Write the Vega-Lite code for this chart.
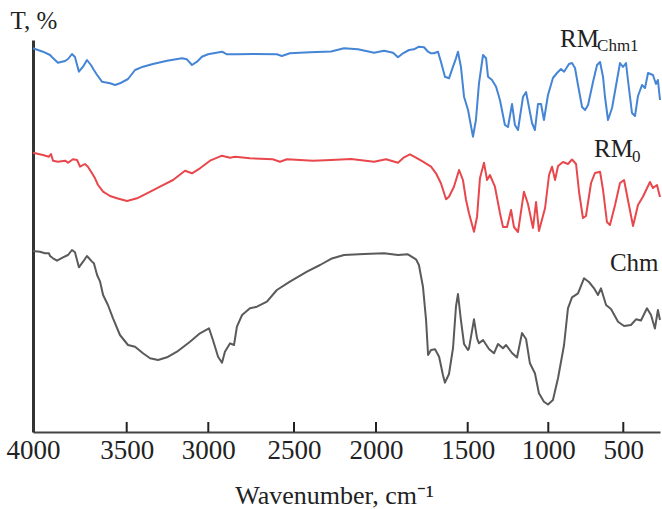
{
  "$schema": "https://vega.github.io/schema/vega-lite/v6.json",
  "width": 627,
  "height": 392,
  "autosize": "none",
  "padding": {"left": 33, "top": 40, "right": 2, "bottom": 77},
  "config": {"view": {"stroke": null}, "font": "Liberation Serif"},
  "datasets": {
    "spectra": [
      {"series":"RMChm1","wn":4000,"T":383.7},{"series":"RMChm1","wn":3947,"T":380.3},{"series":"RMChm1","wn":3909,"T":377},{"series":"RMChm1","wn":3899,"T":375},{"series":"RMChm1","wn":3867,"T":369.3},{"series":"RMChm1","wn":3829,"T":371},{"series":"RMChm1","wn":3813,"T":373},{"series":"RMChm1","wn":3792,"T":378},{"series":"RMChm1","wn":3776,"T":375},{"series":"RMChm1","wn":3755,"T":360.3},{"series":"RMChm1","wn":3733,"T":365.3},{"series":"RMChm1","wn":3712,"T":372},{"series":"RMChm1","wn":3691,"T":367},{"series":"RMChm1","wn":3675,"T":362},{"series":"RMChm1","wn":3658,"T":357},{"series":"RMChm1","wn":3632,"T":350.3},{"series":"RMChm1","wn":3589,"T":348.7},{"series":"RMChm1","wn":3562,"T":347},{"series":"RMChm1","wn":3536,"T":348.7},{"series":"RMChm1","wn":3492,"T":353},{"series":"RMChm1","wn":3449,"T":362},{"series":"RMChm1","wn":3400,"T":365.3},{"series":"RMChm1","wn":3339,"T":368},{"series":"RMChm1","wn":3253,"T":371.3},{"series":"RMChm1","wn":3161,"T":373.7},{"series":"RMChm1","wn":3131,"T":372.7},{"series":"RMChm1","wn":3100,"T":367},{"series":"RMChm1","wn":3069,"T":370.3},{"series":"RMChm1","wn":3039,"T":375.3},{"series":"RMChm1","wn":3002,"T":377.7},{"series":"RMChm1","wn":2920,"T":380.3},{"series":"RMChm1","wn":2891,"T":377.7},{"series":"RMChm1","wn":2833,"T":377.7},{"series":"RMChm1","wn":2739,"T":378},{"series":"RMChm1","wn":2600,"T":377.7},{"series":"RMChm1","wn":2571,"T":376},{"series":"RMChm1","wn":2524,"T":378.7},{"series":"RMChm1","wn":2402,"T":379.7},{"series":"RMChm1","wn":2274,"T":380.5},{"series":"RMChm1","wn":2195,"T":383.7},{"series":"RMChm1","wn":2110,"T":382.7},{"series":"RMChm1","wn":2012,"T":379.3},{"series":"RMChm1","wn":1956,"T":381.3},{"series":"RMChm1","wn":1907,"T":379.3},{"series":"RMChm1","wn":1880,"T":374.7},{"series":"RMChm1","wn":1853,"T":378.7},{"series":"RMChm1","wn":1820,"T":382},{"series":"RMChm1","wn":1793,"T":382.7},{"series":"RMChm1","wn":1766,"T":385.3},{"series":"RMChm1","wn":1738,"T":384.7},{"series":"RMChm1","wn":1716,"T":380.3},{"series":"RMChm1","wn":1700,"T":378.7},{"series":"RMChm1","wn":1684,"T":378.7},{"series":"RMChm1","wn":1662,"T":380.3},{"series":"RMChm1","wn":1646,"T":370.3},{"series":"RMChm1","wn":1624,"T":355.3},{"series":"RMChm1","wn":1602,"T":353.7},{"series":"RMChm1","wn":1580,"T":365.3},{"series":"RMChm1","wn":1564,"T":373.7},{"series":"RMChm1","wn":1553,"T":380.3},{"series":"RMChm1","wn":1537,"T":365.3},{"series":"RMChm1","wn":1520,"T":335.3},{"series":"RMChm1","wn":1498,"T":322},{"series":"RMChm1","wn":1467,"T":295.3},{"series":"RMChm1","wn":1449,"T":312},{"series":"RMChm1","wn":1430,"T":348.7},{"series":"RMChm1","wn":1405,"T":377},{"series":"RMChm1","wn":1386,"T":373.7},{"series":"RMChm1","wn":1374,"T":355.3},{"series":"RMChm1","wn":1349,"T":352},{"series":"RMChm1","wn":1324,"T":345.3},{"series":"RMChm1","wn":1300,"T":332},{"series":"RMChm1","wn":1269,"T":307},{"series":"RMChm1","wn":1250,"T":305},{"series":"RMChm1","wn":1225,"T":328},{"series":"RMChm1","wn":1207,"T":307},{"series":"RMChm1","wn":1188,"T":302},{"series":"RMChm1","wn":1157,"T":335},{"series":"RMChm1","wn":1138,"T":340},{"series":"RMChm1","wn":1126,"T":330},{"series":"RMChm1","wn":1101,"T":309},{"series":"RMChm1","wn":1083,"T":302},{"series":"RMChm1","wn":1064,"T":328},{"series":"RMChm1","wn":1045,"T":328},{"series":"RMChm1","wn":1027,"T":312},{"series":"RMChm1","wn":1002,"T":337},{"series":"RMChm1","wn":969,"T":354},{"series":"RMChm1","wn":942,"T":359},{"series":"RMChm1","wn":915,"T":363},{"series":"RMChm1","wn":895,"T":360.3},{"series":"RMChm1","wn":862,"T":368},{"series":"RMChm1","wn":842,"T":369},{"series":"RMChm1","wn":822,"T":364},{"series":"RMChm1","wn":802,"T":347},{"series":"RMChm1","wn":775,"T":325},{"series":"RMChm1","wn":755,"T":322},{"series":"RMChm1","wn":735,"T":327},{"series":"RMChm1","wn":702,"T":350},{"series":"RMChm1","wn":675,"T":367},{"series":"RMChm1","wn":655,"T":370},{"series":"RMChm1","wn":635,"T":355},{"series":"RMChm1","wn":622,"T":335},{"series":"RMChm1","wn":602,"T":312},{"series":"RMChm1","wn":575,"T":324},{"series":"RMChm1","wn":542,"T":352},{"series":"RMChm1","wn":522,"T":369},{"series":"RMChm1","wn":502,"T":365},{"series":"RMChm1","wn":482,"T":369},{"series":"RMChm1","wn":469,"T":352},{"series":"RMChm1","wn":442,"T":319},{"series":"RMChm1","wn":422,"T":316},{"series":"RMChm1","wn":402,"T":336},{"series":"RMChm1","wn":375,"T":347},{"series":"RMChm1","wn":355,"T":344},{"series":"RMChm1","wn":335,"T":359},{"series":"RMChm1","wn":302,"T":357},{"series":"RMChm1","wn":282,"T":348},{"series":"RMChm1","wn":269,"T":352},{"series":"RMChm1","wn":255,"T":332},

      {"series":"RM0","wn":4000,"T":279.3},{"series":"RM0","wn":3947,"T":277},{"series":"RM0","wn":3915,"T":275.3},{"series":"RM0","wn":3904,"T":278},{"series":"RM0","wn":3893,"T":271.3},{"series":"RM0","wn":3867,"T":270.3},{"series":"RM0","wn":3829,"T":271.3},{"series":"RM0","wn":3813,"T":269.3},{"series":"RM0","wn":3787,"T":272.7},{"series":"RM0","wn":3765,"T":272},{"series":"RM0","wn":3749,"T":265.3},{"series":"RM0","wn":3723,"T":268},{"series":"RM0","wn":3707,"T":265.3},{"series":"RM0","wn":3685,"T":258.7},{"series":"RM0","wn":3669,"T":253.7},{"series":"RM0","wn":3653,"T":247},{"series":"RM0","wn":3626,"T":240.3},{"series":"RM0","wn":3589,"T":236},{"series":"RM0","wn":3552,"T":233.7},{"series":"RM0","wn":3498,"T":231},{"series":"RM0","wn":3437,"T":233.7},{"series":"RM0","wn":3376,"T":238.7},{"series":"RM0","wn":3296,"T":245.3},{"series":"RM0","wn":3216,"T":252},{"series":"RM0","wn":3143,"T":261.3},{"series":"RM0","wn":3100,"T":258.7},{"series":"RM0","wn":3051,"T":263.7},{"series":"RM0","wn":2990,"T":271.3},{"series":"RM0","wn":2920,"T":276.3},{"series":"RM0","wn":2873,"T":274.3},{"series":"RM0","wn":2844,"T":275.3},{"series":"RM0","wn":2757,"T":273.7},{"series":"RM0","wn":2624,"T":272.7},{"series":"RM0","wn":2582,"T":270.3},{"series":"RM0","wn":2541,"T":272.7},{"series":"RM0","wn":2384,"T":271.3},{"series":"RM0","wn":2274,"T":272},{"series":"RM0","wn":2152,"T":273},{"series":"RM0","wn":2012,"T":270.3},{"series":"RM0","wn":1945,"T":272.7},{"series":"RM0","wn":1880,"T":269.3},{"series":"RM0","wn":1847,"T":274.7},{"series":"RM0","wn":1815,"T":277.7},{"series":"RM0","wn":1782,"T":274.3},{"series":"RM0","wn":1744,"T":270.3},{"series":"RM0","wn":1700,"T":265.3},{"series":"RM0","wn":1673,"T":258.7},{"series":"RM0","wn":1646,"T":248.7},{"series":"RM0","wn":1618,"T":232.7},{"series":"RM0","wn":1602,"T":235.3},{"series":"RM0","wn":1575,"T":245.3},{"series":"RM0","wn":1547,"T":262},{"series":"RM0","wn":1526,"T":252},{"series":"RM0","wn":1509,"T":232},{"series":"RM0","wn":1492,"T":218.7},{"series":"RM0","wn":1461,"T":200.3},{"series":"RM0","wn":1442,"T":215.3},{"series":"RM0","wn":1424,"T":253.7},{"series":"RM0","wn":1399,"T":269.3},{"series":"RM0","wn":1380,"T":252},{"series":"RM0","wn":1362,"T":257},{"series":"RM0","wn":1331,"T":245.3},{"series":"RM0","wn":1300,"T":219},{"series":"RM0","wn":1281,"T":205},{"series":"RM0","wn":1256,"T":205},{"series":"RM0","wn":1231,"T":222},{"series":"RM0","wn":1213,"T":205},{"series":"RM0","wn":1188,"T":200},{"series":"RM0","wn":1151,"T":240.3},{"series":"RM0","wn":1126,"T":228},{"series":"RM0","wn":1095,"T":204},{"series":"RM0","wn":1076,"T":230},{"series":"RM0","wn":1058,"T":201},{"series":"RM0","wn":1020,"T":224},{"series":"RM0","wn":995,"T":257},{"series":"RM0","wn":975,"T":265.3},{"series":"RM0","wn":955,"T":252},{"series":"RM0","wn":935,"T":266},{"series":"RM0","wn":902,"T":270},{"series":"RM0","wn":869,"T":268},{"series":"RM0","wn":842,"T":272.5},{"series":"RM0","wn":815,"T":268},{"series":"RM0","wn":795,"T":240},{"series":"RM0","wn":769,"T":214},{"series":"RM0","wn":749,"T":216},{"series":"RM0","wn":715,"T":249},{"series":"RM0","wn":689,"T":259},{"series":"RM0","wn":655,"T":260.3},{"series":"RM0","wn":635,"T":242},{"series":"RM0","wn":609,"T":210},{"series":"RM0","wn":589,"T":207},{"series":"RM0","wn":555,"T":227},{"series":"RM0","wn":522,"T":249},{"series":"RM0","wn":495,"T":252},{"series":"RM0","wn":469,"T":232},{"series":"RM0","wn":435,"T":206},{"series":"RM0","wn":402,"T":227},{"series":"RM0","wn":369,"T":235.3},{"series":"RM0","wn":322,"T":250},{"series":"RM0","wn":302,"T":244},{"series":"RM0","wn":275,"T":247},{"series":"RM0","wn":255,"T":235},

      {"series":"Chm","wn":4000,"T":181},{"series":"Chm","wn":3963,"T":180.3},{"series":"Chm","wn":3936,"T":178.7},{"series":"Chm","wn":3915,"T":178.7},{"series":"Chm","wn":3909,"T":176},{"series":"Chm","wn":3893,"T":173.7},{"series":"Chm","wn":3872,"T":171.3},{"series":"Chm","wn":3840,"T":174.7},{"series":"Chm","wn":3813,"T":177},{"series":"Chm","wn":3792,"T":182},{"series":"Chm","wn":3776,"T":179.7},{"series":"Chm","wn":3755,"T":164.7},{"series":"Chm","wn":3733,"T":170.3},{"series":"Chm","wn":3712,"T":176},{"series":"Chm","wn":3685,"T":170.3},{"series":"Chm","wn":3675,"T":168.7},{"series":"Chm","wn":3658,"T":157},{"series":"Chm","wn":3642,"T":150.3},{"series":"Chm","wn":3626,"T":137},{"series":"Chm","wn":3600,"T":127},{"series":"Chm","wn":3573,"T":113.7},{"series":"Chm","wn":3536,"T":97},{"series":"Chm","wn":3492,"T":87},{"series":"Chm","wn":3449,"T":85.3},{"series":"Chm","wn":3400,"T":78.7},{"series":"Chm","wn":3357,"T":73.7},{"series":"Chm","wn":3308,"T":72},{"series":"Chm","wn":3253,"T":74.7},{"series":"Chm","wn":3192,"T":80.3},{"series":"Chm","wn":3112,"T":90.3},{"series":"Chm","wn":3051,"T":98.7},{"series":"Chm","wn":2996,"T":103.7},{"series":"Chm","wn":2973,"T":92},{"series":"Chm","wn":2943,"T":75.3},{"series":"Chm","wn":2920,"T":69.3},{"series":"Chm","wn":2903,"T":80.3},{"series":"Chm","wn":2873,"T":88.7},{"series":"Chm","wn":2850,"T":87},{"series":"Chm","wn":2833,"T":105.3},{"series":"Chm","wn":2803,"T":117},{"series":"Chm","wn":2757,"T":123.7},{"series":"Chm","wn":2716,"T":125.3},{"series":"Chm","wn":2658,"T":130.3},{"series":"Chm","wn":2600,"T":142},{"series":"Chm","wn":2524,"T":150.3},{"series":"Chm","wn":2421,"T":160.3},{"series":"Chm","wn":2341,"T":167},{"series":"Chm","wn":2274,"T":173.2},{"series":"Chm","wn":2195,"T":177},{"series":"Chm","wn":2073,"T":178},{"series":"Chm","wn":1956,"T":178.7},{"series":"Chm","wn":1880,"T":177},{"series":"Chm","wn":1826,"T":177.7},{"series":"Chm","wn":1782,"T":172.7},{"series":"Chm","wn":1766,"T":167},{"series":"Chm","wn":1744,"T":145.3},{"series":"Chm","wn":1727,"T":112},{"series":"Chm","wn":1716,"T":77},{"series":"Chm","wn":1700,"T":82},{"series":"Chm","wn":1678,"T":82.7},{"series":"Chm","wn":1656,"T":75.3},{"series":"Chm","wn":1635,"T":57},{"series":"Chm","wn":1624,"T":49.3},{"series":"Chm","wn":1602,"T":58},{"series":"Chm","wn":1580,"T":84},{"series":"Chm","wn":1564,"T":125.3},{"series":"Chm","wn":1553,"T":138},{"series":"Chm","wn":1537,"T":112},{"series":"Chm","wn":1520,"T":88},{"series":"Chm","wn":1498,"T":82},{"series":"Chm","wn":1492,"T":83.7},{"series":"Chm","wn":1461,"T":112.7},{"series":"Chm","wn":1442,"T":93.7},{"series":"Chm","wn":1430,"T":88.7},{"series":"Chm","wn":1405,"T":92},{"series":"Chm","wn":1368,"T":83},{"series":"Chm","wn":1337,"T":78.7},{"series":"Chm","wn":1312,"T":88},{"series":"Chm","wn":1281,"T":83.7},{"series":"Chm","wn":1262,"T":87},{"series":"Chm","wn":1225,"T":79},{"series":"Chm","wn":1194,"T":74.5},{"series":"Chm","wn":1163,"T":99},{"series":"Chm","wn":1138,"T":93},{"series":"Chm","wn":1114,"T":68.7},{"series":"Chm","wn":1083,"T":58.7},{"series":"Chm","wn":1058,"T":38.7},{"series":"Chm","wn":1027,"T":30.3},{"series":"Chm","wn":1002,"T":27.5},{"series":"Chm","wn":969,"T":32},{"series":"Chm","wn":935,"T":54},{"series":"Chm","wn":895,"T":87},{"series":"Chm","wn":869,"T":123.7},{"series":"Chm","wn":842,"T":134.7},{"series":"Chm","wn":802,"T":138.7},{"series":"Chm","wn":762,"T":153.7},{"series":"Chm","wn":729,"T":150},{"series":"Chm","wn":695,"T":143.7},{"series":"Chm","wn":669,"T":137},{"series":"Chm","wn":649,"T":143.7},{"series":"Chm","wn":615,"T":127},{"series":"Chm","wn":582,"T":123},{"series":"Chm","wn":535,"T":110.3},{"series":"Chm","wn":495,"T":106},{"series":"Chm","wn":449,"T":107},{"series":"Chm","wn":415,"T":112.7},{"series":"Chm","wn":382,"T":111.5},{"series":"Chm","wn":342,"T":123.7},{"series":"Chm","wn":315,"T":117},{"series":"Chm","wn":289,"T":103.5},{"series":"Chm","wn":269,"T":122},{"series":"Chm","wn":255,"T":112}
    ],
    "labels": [
      {"txt":"RM","wn":922,"T":385},
      {"txt":"RM","wn":695,"T":275},
      {"txt":"Chm","wn":589,"T":161}
    ],
    "subs": [
      {"txt":"Chm1","wn":675,"T":381},
      {"txt":"0","wn":442,"T":270}
    ],
    "ticks": [
      {"wn":3500},{"wn":3000},{"wn":2500},{"wn":2000},{"wn":1500},{"wn":1000},{"wn":500}
    ]
  },
  "layer": [
    {
      "data": {"name": "spectra"},
      "mark": {"type": "line", "strokeWidth": 2, "strokeJoin": "round"},
      "encoding": {
        "x": {
          "field": "wn", "type": "quantitative",
          "scale": {"domain": [4000, 3500, 3000, 2500, 2000, 1500, 1000, 500, 255], "range": [0, 93.7, 175.3, 261, 343, 434.7, 515.3, 590.3, 627], "nice": false, "zero": false},
          "axis": {
            "values": [4000, 3500, 3000, 2500, 2000, 1500, 1000, 500],
            "format": "d",
            "title": "Wavenumber, cm⁻¹",
            "titleFont": "Liberation Serif", "titleFontSize": 26, "titleFontWeight": "normal", "titleColor": "#222",
            "titleAnchor": "start", "titleAlign": "center", "titleX": 301, "titleY": 71, "titleBaseline": "alphabetic",
            "labelFont": "Liberation Serif", "labelFontSize": 27, "labelColor": "#222", "labelPadding": 5, "labelBaseline": "top",
            "labelOverlap": false, "labelFlush": false,
            "ticks": false,
            "domainColor": "#444", "domainWidth": 2, "grid": false
          }
        },
        "y": {
          "field": "T", "type": "quantitative",
          "scale": {"domain": [0, 392], "nice": false, "zero": false},
          "axis": {
            "title": "T, %", "titleAngle": 0, "titleAlign": "left", "titleBaseline": "alphabetic",
            "titleX": -23, "titleY": -12, "titleFont": "Liberation Serif", "titleFontSize": 25, "titleFontWeight": "normal", "titleColor": "#222",
            "labels": false, "ticks": false, "grid": false,
            "domainColor": "#333", "domainWidth": 3
          }
        },
        "color": {
          "field": "series", "type": "nominal",
          "scale": {"domain": ["RMChm1", "RM0", "Chm"], "range": ["#4585d6", "#e8474c", "#5a5a5a"]},
          "legend": null
        }
      }
    },
    {
      "data": {"name": "ticks"},
      "mark": {"type": "rule", "color": "#222", "strokeWidth": 2},
      "encoding": {"x": {"field": "wn", "type": "quantitative"}, "y": {"datum": 0}, "y2": {"datum": 10}}
    },
    {
      "data": {"name": "labels"},
      "mark": {"type": "text", "align": "left", "baseline": "alphabetic", "fontSize": 25, "font": "Liberation Serif", "color": "#222"},
      "encoding": {"x": {"field": "wn", "type": "quantitative"}, "y": {"field": "T", "type": "quantitative"}, "text": {"field": "txt"}}
    },
    {
      "data": {"name": "subs"},
      "mark": {"type": "text", "align": "left", "baseline": "alphabetic", "fontSize": 17, "font": "Liberation Serif", "color": "#222"},
      "encoding": {"x": {"field": "wn", "type": "quantitative"}, "y": {"field": "T", "type": "quantitative"}, "text": {"field": "txt"}}
    }
  ]
}
